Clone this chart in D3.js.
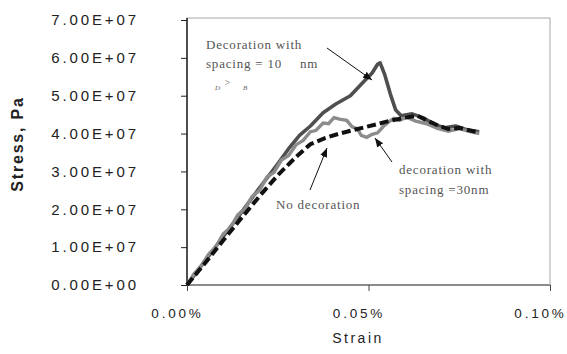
<!DOCTYPE html>
<html>
<head>
<meta charset="utf-8">
<script src="https://cdn.jsdelivr.net/npm/d3@7"></script>
<style>
  body { margin: 0; background: #fff; }
  svg { display: block; }
</style>
</head>
<body>
<svg width="567" height="354"></svg>
<script>
let svg = d3.select("svg");

// strain in %, stress in Pa
let spacing10 = [
  [0, 0], [0.005, 0.64e7], [0.01, 1.28e7], [0.015, 1.92e7], [0.02, 2.57e7],
  [0.025, 3.2e7], [0.028, 3.6e7], [0.031, 3.95e7], [0.034, 4.2e7],
  [0.0375, 4.55e7], [0.041, 4.78e7], [0.045, 5.0e7], [0.048, 5.3e7],
  [0.051, 5.6e7], [0.0525, 5.83e7], [0.0532, 5.87e7], [0.0545, 5.55e7],
  [0.056, 5.05e7], [0.0575, 4.62e7], [0.059, 4.47e7], [0.062, 4.52e7],
  [0.065, 4.42e7], [0.068, 4.25e7], [0.071, 4.15e7], [0.074, 4.2e7],
  [0.077, 4.1e7], [0.0805, 4.05e7]
];
let spacing30 = [
  [0, 0], [0.002, 0.3e7], [0.004, 0.52e7], [0.006, 0.82e7], [0.008, 1.02e7],
  [0.010, 1.35e7], [0.012, 1.52e7], [0.014, 1.85e7], [0.016, 2.02e7],
  [0.018, 2.35e7], [0.020, 2.5e7], [0.022, 2.85e7], [0.024, 2.98e7],
  [0.026, 3.3e7], [0.028, 3.42e7], [0.030, 3.7e7], [0.032, 3.82e7],
  [0.034, 4.05e7], [0.0355, 4.08e7], [0.0375, 4.28e7], [0.039, 4.26e7],
  [0.0405, 4.42e7], [0.042, 4.38e7], [0.044, 4.35e7], [0.0455, 4.18e7],
  [0.047, 4.12e7], [0.048, 3.95e7], [0.0495, 3.9e7], [0.051, 3.98e7],
  [0.0525, 4.02e7], [0.054, 4.18e7], [0.0555, 4.3e7], [0.057, 4.4e7],
  [0.0585, 4.35e7], [0.0605, 4.43e7], [0.063, 4.33e7], [0.066, 4.26e7],
  [0.069, 4.14e7], [0.072, 4.06e7], [0.075, 4.13e7], [0.078, 4.05e7],
  [0.0805, 4.0e7]
];
let noDecoration = [
  [0, 0], [0.005, 0.58e7], [0.01, 1.18e7], [0.015, 1.77e7], [0.02, 2.35e7],
  [0.025, 2.9e7], [0.03, 3.38e7], [0.034, 3.72e7], [0.038, 3.88e7],
  [0.042, 4.0e7], [0.047, 4.12e7], [0.052, 4.24e7], [0.056, 4.34e7],
  [0.06, 4.42e7], [0.0635, 4.47e7], [0.066, 4.35e7], [0.069, 4.22e7],
  [0.072, 4.12e7], [0.075, 4.15e7], [0.078, 4.08e7], [0.0805, 4.03e7]
];

let yTicks = [0, 1e7, 2e7, 3e7, 4e7, 5e7, 6e7, 7e7];
let yTickLabels = ["0.00E+00", "1.00E+07", "2.00E+07", "3.00E+07",
                   "4.00E+07", "5.00E+07", "6.00E+07", "7.00E+07"];
let xTicks = [0, 0.05, 0.1];
let xTickLabels = ["0.00%", "0.05%", "0.10%"];

let plot_left = 187, plot_right = 550, plot_top = 18, plot_bottom = 285;

let x_scale = d3.scaleLinear().domain([0, 0.1]).range([plot_left, plot_right]);
let y_scale = d3.scaleLinear().domain([0, 7e7]).range([plot_bottom, plot_top + 2]);

// plot frame: light border on top / right
svg.append("rect")
  .attr("x", plot_left).attr("y", plot_top)
  .attr("width", plot_right - plot_left).attr("height", plot_bottom - plot_top)
  .attr("fill", "none").attr("stroke", "#a8a8a8").attr("stroke-width", 1);

// y axis
let yAxis = svg.append("g")
  .attr("transform", "translate(" + plot_left + ",0)")
  .call(d3.axisLeft(y_scale).tickValues(yTicks).tickSize(6)
    .tickFormat((d, i) => yTickLabels[i]));
yAxis.select(".domain").attr("stroke", "#222").attr("stroke-width", 1.5)
  .attr("d", "M0," + plot_top + "V" + plot_bottom);
yAxis.selectAll(".tick line").attr("stroke", "#222");
yAxis.selectAll("text")
  .attr("x", -48)
  .style("font-family", "Liberation Sans, Arial, sans-serif")
  .style("font-size", "15px")
  .style("letter-spacing", "2.9px")
  .attr("fill", "#222");

// x axis
let xAxis = svg.append("g")
  .attr("transform", "translate(0," + plot_bottom + ")")
  .call(d3.axisBottom(x_scale).tickValues(xTicks).tickSize(6)
    .tickFormat((d, i) => xTickLabels[i]));
xAxis.select(".domain").attr("stroke", "#444").attr("stroke-width", 1.2)
  .attr("d", "M" + plot_left + ",0H" + plot_right);
xAxis.selectAll(".tick line").attr("stroke", "#444");
xAxis.selectAll("text")
  .attr("y", 23)
  .attr("dx", -10)
  .style("font-family", "Liberation Sans, Arial, sans-serif")
  .style("font-size", "13.5px")
  .style("letter-spacing", "2.8px")
  .attr("fill", "#222");

// axis titles
svg.append("text")
  .attr("x", 358).attr("y", 343)
  .attr("text-anchor", "middle")
  .style("font-family", "Liberation Sans, Arial, sans-serif")
  .style("font-size", "14px")
  .style("letter-spacing", "2.5px")
  .attr("fill", "#222")
  .text("Strain");

svg.append("text")
  .attr("transform", "translate(23,144) rotate(-90)")
  .attr("text-anchor", "middle")
  .style("font-family", "Liberation Sans, Arial, sans-serif")
  .style("font-size", "16px")
  .style("font-weight", "bold")
  .style("letter-spacing", "1.8px")
  .attr("fill", "#222")
  .text("Stress, Pa");

// curves
let line = d3.line()
  .x((d) => x_scale(d[0]))
  .y((d) => y_scale(d[1]));

svg.append("path")
  .datum(spacing10)
  .attr("d", line)
  .attr("fill", "none")
  .attr("stroke", "#4f4f4f")
  .attr("stroke-width", 3.6)
  .attr("stroke-linejoin", "round");

svg.append("path")
  .datum(spacing30)
  .attr("d", line)
  .attr("fill", "none")
  .attr("stroke", "#8c8c8c")
  .attr("stroke-width", 3.4)
  .attr("stroke-linejoin", "miter");

svg.append("path")
  .datum(noDecoration)
  .attr("d", line)
  .attr("fill", "none")
  .attr("stroke", "#111")
  .attr("stroke-width", 4)
  .attr("stroke-dasharray", "9,4");

// arrows
svg.append("defs").append("marker")
  .attr("id", "head")
  .attr("viewBox", "0 0 10 10")
  .attr("refX", 10).attr("refY", 5)
  .attr("markerWidth", 9).attr("markerHeight", 9)
  .attr("markerUnits", "userSpaceOnUse")
  .attr("orient", "auto")
  .append("path")
    .attr("d", "M0,1L10,5L0,9Z")
    .attr("fill", "#111");

let arrows = [
  [327, 48, 372, 80],
  [310, 190, 327, 148],
  [392, 162, 375, 138]
];
svg.selectAll("line.arrow")
  .data(arrows)
  .enter().append("line")
    .attr("class", "arrow")
    .attr("x1", (d) => d[0]).attr("y1", (d) => d[1])
    .attr("x2", (d) => d[2]).attr("y2", (d) => d[3])
    .attr("stroke", "#111")
    .attr("stroke-width", 1)
    .attr("marker-end", "url(#head)");

// annotations
let notes = [
  {x: 206, y: 49, t: "Decoration with"},
  {x: 206, y: 68, t: "spacing = 10"},
  {x: 300, y: 68, t: "nm"},
  {x: 276, y: 209, t: "No decoration"},
  {x: 399, y: 174, t: "decoration  with"},
  {x: 399, y: 194, t: "spacing =30nm"}
];
svg.selectAll("text.note")
  .data(notes)
  .enter().append("text")
    .attr("class", "note")
    .attr("x", (d) => d.x).attr("y", (d) => d.y)
    .style("font-family", "Liberation Serif, Times New Roman, serif")
    .style("font-size", "13px")
    .style("letter-spacing", "0.8px")
    .attr("fill", "#555")
    .text((d) => d.t);

let tiny = [
  {x: 215, y: 90, t: "D", s: 7},
  {x: 224, y: 86, t: ">", s: 10},
  {x: 243, y: 90, t: "B", s: 7}
];
svg.selectAll("text.tiny")
  .data(tiny)
  .enter().append("text")
    .attr("class", "tiny")
    .attr("x", (d) => d.x).attr("y", (d) => d.y)
    .style("font-family", "Liberation Serif, Times New Roman, serif")
    .style("font-style", "italic")
    .style("font-size", (d) => d.s + "px")
    .attr("fill", "#666")
    .text((d) => d.t);
</script>
</body>
</html>
